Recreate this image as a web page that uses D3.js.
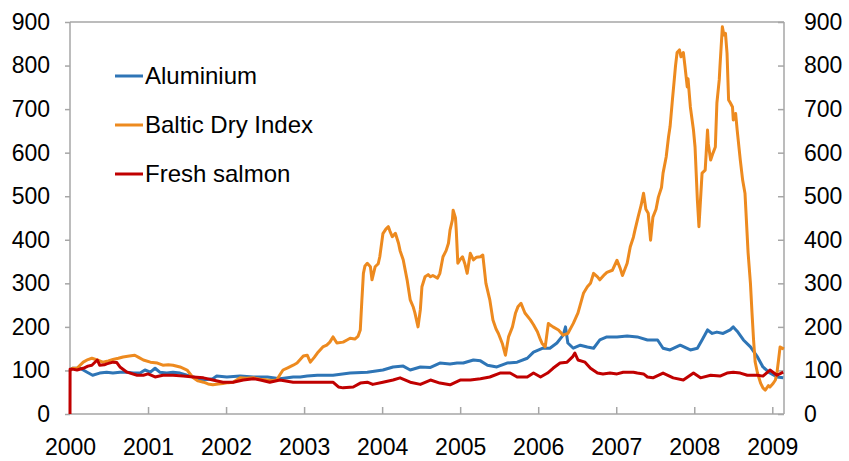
<!DOCTYPE html>
<html><head><meta charset="utf-8">
<script src="https://cdn.jsdelivr.net/npm/d3@7"></script>
<style>
html,body{margin:0;padding:0;background:#fff;}
svg text{font-family:"Liberation Sans",Arial,sans-serif;fill:#000;}
</style></head><body>
<svg id="chart" width="849" height="461"></svg>
<script>
const yTicks = [0,100,200,300,400,500,600,700,800,900];
const xTicks = [2000,2001,2002,2003,2004,2005,2006,2007,2008,2009];
const seriesNames = ["Aluminium","Baltic Dry Index","Fresh salmon"];
const seriesColors = ["#2e75b6","#ed8a1f","#c00000"];

// [decimal year, index value]
const aluminium = [
[2000.00,100],[2000.03,105],[2000.13,105],[2000.22,96],[2000.29,89],[2000.38,94],[2000.47,96],[2000.55,94],[2000.64,96],[2000.73,96],[2000.81,94],[2000.90,94],[2000.96,101],
[2001.03,96],[2001.09,105],[2001.15,96],[2001.24,94],[2001.32,96],[2001.41,94],[2001.50,89],[2001.58,85],[2001.71,78],[2001.83,81],[2001.88,87],
[2002.01,85],[2002.18,87],[2002.35,85],[2002.53,85],[2002.69,81],[2002.86,85],[2002.95,85],
[2003.04,87],[2003.17,89],[2003.37,89],[2003.59,94],[2003.81,96],
[2004.01,101],[2004.14,108],[2004.27,110],[2004.36,101],[2004.49,108],[2004.62,107],[2004.74,117],[2004.87,115],[2004.96,117],
[2005.04,117],[2005.17,124],[2005.26,122],[2005.35,112],[2005.47,108],[2005.60,117],[2005.73,119],[2005.86,128],[2005.94,142],
[2006.06,151],[2006.15,151],[2006.24,163],[2006.32,181],[2006.35,200],[2006.38,163],[2006.45,151],[2006.54,158],[2006.63,154],[2006.71,151],[2006.79,170],[2006.88,177],
[2007.01,177],[2007.14,179],[2007.27,177],[2007.40,170],[2007.53,170],[2007.60,151],[2007.69,147],[2007.82,158],[2007.95,147],
[2008.04,151],[2008.10,170],[2008.17,193],[2008.23,185],[2008.29,188],[2008.37,185],[2008.46,193],[2008.50,200],[2008.55,190],[2008.63,170],[2008.72,154],[2008.81,131],[2008.88,108],[2008.97,94],
[2009.06,85],[2009.14,83]
];

const balticDry = [
[2000.00,100],[2000.03,105],[2000.09,105],[2000.17,119],[2000.23,125],[2000.28,128],[2000.35,124],[2000.42,119],[2000.49,122],[2000.55,125],[2000.62,128],[2000.68,131],[2000.76,133],[2000.83,135],[2000.88,130],[2000.94,124],
[2001.03,119],[2001.12,117],[2001.19,112],[2001.26,113],[2001.32,112],[2001.41,108],[2001.50,101],[2001.58,83],[2001.64,76],[2001.71,73],[2001.77,69],[2001.83,67],[2001.90,69],[2001.96,70],
[2002.03,72],[2002.09,73],[2002.18,83],[2002.26,82],[2002.35,83],[2002.44,80],[2002.53,78],[2002.59,77],[2002.65,78],[2002.69,90],[2002.73,101],[2002.79,106],[2002.86,112],[2002.91,117],[2002.99,133],
[2003.04,135],[2003.08,119],[2003.13,130],[2003.17,140],[2003.24,154],[2003.29,158],[2003.33,165],[2003.37,177],[2003.42,163],[2003.50,165],[2003.55,170],[2003.59,174],[2003.65,172],[2003.69,178],[2003.72,193],[2003.74,260],[2003.76,323],[2003.78,340],[2003.81,346],[2003.85,338],[2003.87,308],[2003.91,338],[2003.95,345],[2003.97,361],
[2004.01,414],[2004.05,425],[2004.08,430],[2004.10,420],[2004.13,407],[2004.17,415],[2004.21,392],[2004.23,375],[2004.27,354],[2004.32,308],[2004.36,262],[2004.40,245],[2004.42,232],[2004.46,200],[2004.49,240],[2004.51,292],[2004.55,315],[2004.59,320],[2004.62,315],[2004.65,318],[2004.71,312],[2004.74,323],[2004.78,361],[2004.82,375],[2004.85,392],[2004.87,422],[2004.90,445],[2004.91,468],[2004.94,450],[2004.95,422],[2004.97,346],
[2005.00,355],[2005.03,361],[2005.06,345],[2005.09,323],[2005.13,369],[2005.17,354],[2005.21,360],[2005.26,361],[2005.29,365],[2005.33,300],[2005.38,262],[2005.42,216],[2005.46,195],[2005.49,185],[2005.54,162],[2005.58,135],[2005.62,177],[2005.67,200],[2005.71,232],[2005.74,246],[2005.78,254],[2005.83,232],[2005.90,216],[2005.94,205],[2005.99,189],
[2006.03,170],[2006.05,162],[2006.09,154],[2006.13,208],[2006.15,205],[2006.19,200],[2006.26,193],[2006.32,181],[2006.38,185],[2006.45,208],[2006.51,232],[2006.58,277],[2006.63,292],[2006.67,300],[2006.71,323],[2006.76,315],[2006.79,308],[2006.85,320],[2006.88,325],[2006.95,330],
[2007.01,353],[2007.05,335],[2007.08,318],[2007.14,346],[2007.18,384],[2007.22,406],[2007.24,422],[2007.28,452],[2007.32,480],[2007.35,507],[2007.38,470],[2007.41,461],[2007.44,399],[2007.47,452],[2007.51,470],[2007.54,498],[2007.58,520],[2007.60,553],[2007.64,590],[2007.67,636],[2007.69,660],[2007.72,721],[2007.74,760],[2007.76,800],[2007.78,830],[2007.81,836],[2007.83,820],[2007.86,830],[2007.88,800],[2007.91,751],[2007.92,770],[2007.95,705],[2007.99,652],
[2008.01,613],[2008.04,491],[2008.06,430],[2008.10,553],[2008.14,560],[2008.17,652],[2008.18,620],[2008.21,583],[2008.24,599],[2008.27,613],[2008.29,714],[2008.32,767],[2008.33,800],[2008.36,889],[2008.38,870],[2008.40,874],[2008.42,828],[2008.44,721],[2008.46,715],[2008.49,705],[2008.50,675],[2008.53,690],[2008.55,652],[2008.59,583],[2008.62,537],[2008.65,507],[2008.69,370],[2008.72,300],[2008.74,232],[2008.76,170],[2008.78,120],[2008.81,94],[2008.85,71],[2008.88,60],[2008.91,55],[2008.95,65],[2008.97,62],
[2009.01,70],[2009.04,78],[2009.06,95],[2009.08,124],[2009.10,154],[2009.13,150],[2009.14,154]
];

const freshSalmon = [
[2000.00,0],[2000.001,103],[2000.03,103],[2000.09,101],[2000.17,105],[2000.23,110],[2000.28,112],[2000.35,124],[2000.38,112],[2000.44,113],[2000.47,115],[2000.55,119],[2000.60,118],[2000.64,108],[2000.73,96],[2000.86,89],[2000.94,89],
[2001.00,92],[2001.09,85],[2001.19,89],[2001.32,89],[2001.45,87],[2001.58,85],[2001.71,83],[2001.83,78],[2001.96,73],
[2002.09,73],[2002.22,78],[2002.35,81],[2002.44,78],[2002.56,73],[2002.69,78],[2002.86,73],
[2003.04,73],[2003.17,73],[2003.37,73],[2003.44,62],[2003.50,60],[2003.63,62],[2003.72,71],[2003.81,73],[2003.88,68],
[2004.01,73],[2004.14,78],[2004.23,83],[2004.36,73],[2004.49,68],[2004.62,78],[2004.74,71],[2004.87,67],
[2005.00,78],[2005.13,78],[2005.26,81],[2005.38,85],[2005.51,94],[2005.64,94],[2005.73,85],[2005.86,85],[2005.94,94],
[2006.03,85],[2006.12,94],[2006.19,105],[2006.28,117],[2006.37,119],[2006.44,131],[2006.47,140],[2006.51,124],[2006.60,119],[2006.67,105],[2006.76,94],[2006.83,92],[2006.92,94],
[2007.01,92],[2007.09,96],[2007.14,96],[2007.22,96],[2007.27,94],[2007.35,92],[2007.40,85],[2007.47,83],[2007.60,94],[2007.73,83],[2007.86,78],[2007.99,94],
[2008.08,83],[2008.21,89],[2008.33,87],[2008.42,94],[2008.50,96],[2008.59,94],[2008.68,89],[2008.81,89],[2008.88,87],[2008.97,101],
[2009.06,89],[2009.14,96]
];

const seriesData = [aluminium, balticDry, freshSalmon];
const drawOrder = [0, 1, 2];

const svg = d3.select("#chart");
const L = 70, R = 784, T = 22, B = 414;
const x = d3.scaleLinear().domain([2000, 2009.15]).range([L, R]);
const y = d3.scaleLinear().domain([0, 900]).range([B, T]);
const axisColor = "#a6a6a6";
const fontSize = 23;

// frame top
svg.append("line").attr("x1", L).attr("x2", R).attr("y1", T).attr("y2", T)
  .attr("stroke", axisColor).attr("stroke-width", 1.5);

// left axis
const gl = svg.append("g").attr("transform", `translate(${L},0)`)
  .call(d3.axisLeft(y).tickValues(yTicks).tickSize(5).tickPadding(15).tickFormat(d3.format("d")));
// right axis
const gr = svg.append("g").attr("transform", `translate(${R},0)`)
  .call(d3.axisRight(y).tickValues(yTicks).tickSize(-6).tickPadding(20).tickFormat(d3.format("d")));
// bottom axis
const gb = svg.append("g").attr("transform", `translate(0,${B})`)
  .call(d3.axisBottom(x).tickValues(xTicks).tickSize(-7).tickPadding(25).tickFormat(d3.format("d")));

[gl, gr, gb].forEach(g => {
  g.select(".domain").attr("stroke", axisColor).attr("stroke-width", 1.5);
  g.selectAll(".tick line").attr("stroke", axisColor).attr("stroke-width", 1.5);
  g.selectAll(".tick text").attr("font-size", fontSize)
    .style("font-family", '"Liberation Sans", Arial, sans-serif').attr("fill", "#000");
});
gl.select(".domain").attr("d", `M-0,${B}V${T}`);
gr.select(".domain").attr("d", `M0,${B}V${T}`);
gb.select(".domain").attr("d", `M${L},0H${R}`);
gb.selectAll(".tick").filter(d => d === 2000).select("line").remove();

const line = d3.line().x(d => x(d[0])).y(d => y(d[1]));
drawOrder.forEach(i => {
  svg.append("path").datum(seriesData[i])
    .attr("fill", "none").attr("stroke", seriesColors[i])
    .attr("stroke-width", 3).attr("stroke-linejoin", "round")
    .attr("d", line);
});

// legend
const leg = svg.append("g");
seriesNames.forEach((name, i) => {
  const yy = 76 + i * 49;
  leg.append("line").attr("x1", 115).attr("x2", 143).attr("y1", yy).attr("y2", yy)
    .attr("stroke", seriesColors[i]).attr("stroke-width", 3);
  leg.append("text").attr("x", 145).attr("y", yy + 8).attr("font-size", 24).text(name);
});
</script>
</body></html>
